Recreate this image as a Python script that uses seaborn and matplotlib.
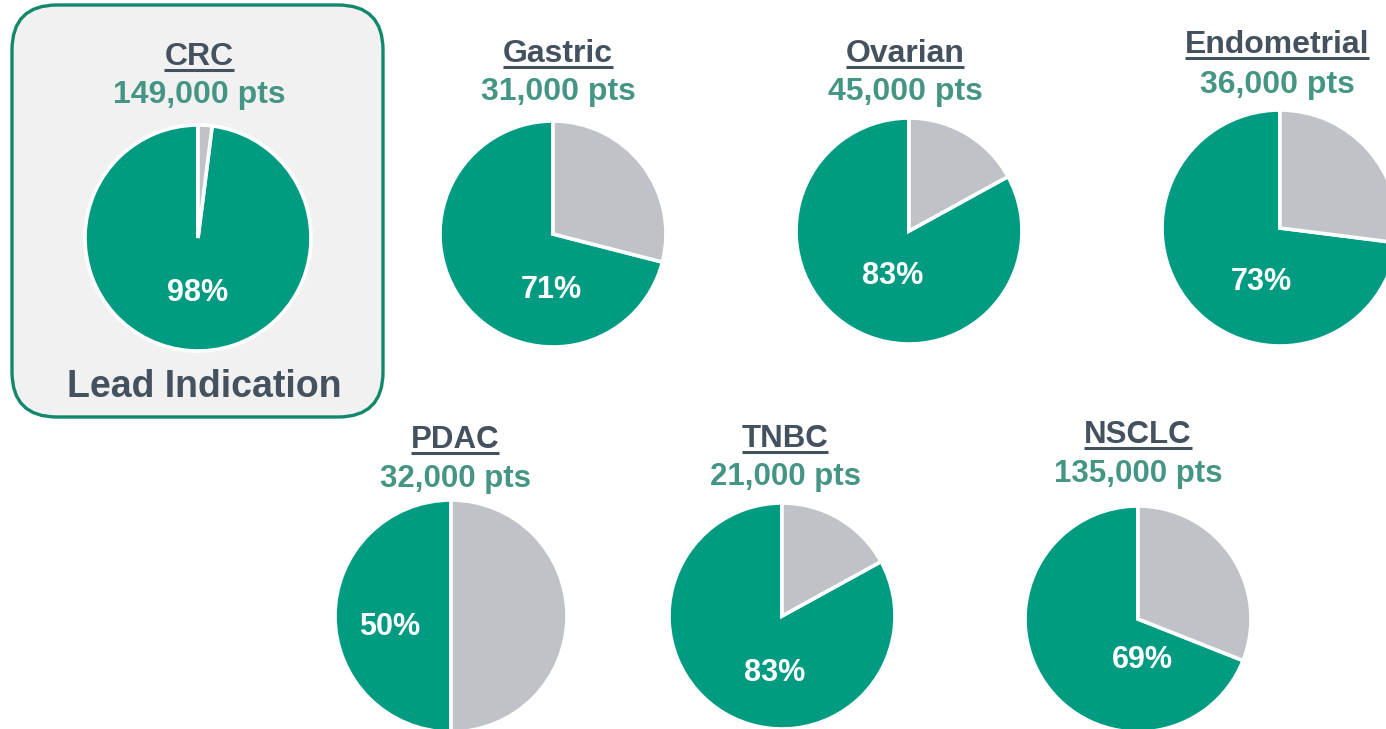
import seaborn as sns
import matplotlib.pyplot as plt
from matplotlib.patches import FancyBboxPatch

# data
indications = ['CRC', 'Gastric', 'Ovarian', 'Endometrial', 'PDAC', 'TNBC', 'NSCLC']
patients = ['149,000 pts', '31,000 pts', '45,000 pts', '36,000 pts',
            '32,000 pts', '21,000 pts', '135,000 pts']
share = [98, 71, 83, 73, 50, 83, 69]

# layout (pixels, origin top-left)
W, H = 1386, 729
centers = [(198, 238), (553, 234), (909, 231), (1280, 228),
           (451, 616), (782, 616), (1138, 619)]
radii = [113, 113, 113, 118, 116, 113, 113]
title_x = [199, 558, 905, 1277, 455, 785, 1138]
title_base = [65, 62, 62, 53, 448, 447, 443]
sub_base = [103, 100, 100, 93, 487, 485, 482]
label_pos = [(198, 293), (551, 290), (893, 276), (1261, 282),
             (390, 627), (775, 673), (1142, 660)]
title_size = [23, 23, 23, 23, 22.5, 22.5, 22.5]

GREEN = '#009b80'
GRAY = '#bfc2c6'
DARK = '#44515e'
TEAL = '#459585'

sns.set_theme(style='white')
plt.rcParams['font.family'] = ['Liberation Sans', 'DejaVu Sans']

fig = plt.figure(figsize=(W / 100, H / 100), dpi=100)
ax = fig.add_axes([0, 0, 1, 1])

# lead indication box
box = FancyBboxPatch((12, H - 417), 371, 412,
                     boxstyle='round,pad=0,rounding_size=45',
                     facecolor='#f1f1f1', edgecolor='#11876b', linewidth=2.4, zorder=0)
ax.add_patch(box)

titles = []
for i, name in enumerate(indications):
    cx, cy = centers[i]
    ax.pie([share[i], 100 - share[i]], colors=[GREEN, GRAY], startangle=90,
           counterclock=True, center=(cx, H - cy), radius=radii[i],
           wedgeprops=dict(edgecolor='white', linewidth=2.6), frame=True)
    lx, ly = label_pos[i]
    ax.text(lx, H - ly, f'{share[i]}%', color='white', fontsize=22,
            fontweight='bold', ha='center', va='center', zorder=5)
    t = ax.text(title_x[i], H - title_base[i], name, color=DARK,
                fontsize=title_size[i], fontweight='bold', ha='center', va='baseline')
    titles.append(t)
    ax.text(title_x[i], H - sub_base[i], patients[i], color=TEAL,
            fontsize=title_size[i], fontweight='bold', ha='center', va='baseline')

ax.text(204, H - 397, 'Lead Indication', color=DARK, fontsize=27,
        fontweight='bold', ha='center', va='baseline')

ax.set_xlim(0, W)
ax.set_ylim(0, H)
ax.set_aspect('equal')
ax.axis('off')

# underline the titles
fig.canvas.draw()
renderer = fig.canvas.get_renderer()
inv = ax.transData.inverted()
for i, t in enumerate(titles):
    bb = t.get_window_extent(renderer)
    x0, _ = inv.transform((bb.x0, 0))
    x1, _ = inv.transform((bb.x1, 0))
    y = H - title_base[i] - 5
    ax.plot([x0, x1], [y, y], color=DARK, linewidth=2.2, solid_capstyle='butt')

fig.savefig('out.png', dpi=100, facecolor='white')
